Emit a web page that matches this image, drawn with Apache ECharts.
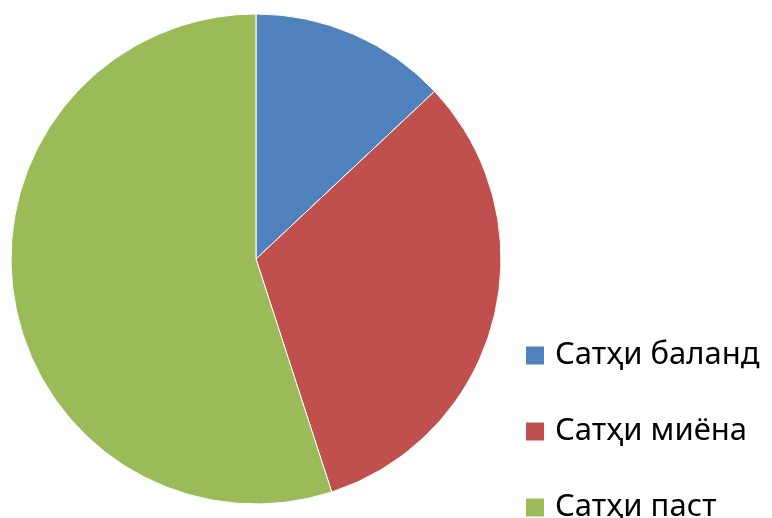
<!DOCTYPE html>
<html>
<head>
<meta charset="utf-8">
<script src="https://cdn.jsdelivr.net/npm/echarts@6/dist/echarts.min.js"></script>
<style>html,body{margin:0;padding:0;background:#fff;}#c{width:772px;height:518px;}</style>
</head>
<body>
<div id="c"></div>
<script>
const categories = ['Сатҳи баланд', 'Сатҳи миёна', 'Сатҳи паст'];
const values = [13, 32, 55];
const colors = ['#4F81BD', '#C0504D', '#9BBB59'];
const legendTops = [340, 416, 492];

const chart = echarts.init(document.getElementById('c'));
chart.setOption({
  animation: false,
  color: colors,
  legend: categories.map((c, i) => ({
    orient: 'vertical',
    left: 524,
    top: legendTops[i],
    padding: 0,
    itemWidth: 20,
    itemHeight: 20,
    icon: 'rect',
    selectedMode: false,
    textStyle: { fontFamily: 'Noto Sans', fontSize: 31, lineHeight: 20, color: '#000', padding: [0, 0, 0, 5] },
    data: [c]
  })),
  series: [{
    type: 'pie',
    center: [256, 259],
    radius: 245,
    startAngle: 90,
    clockwise: true,
    label: { show: false },
    labelLine: { show: false },
    itemStyle: { borderColor: '#fff', borderWidth: 1 },
    data: categories.map((c, i) => ({ name: c, value: values[i] }))
  }]
});
</script>
</body>
</html>
